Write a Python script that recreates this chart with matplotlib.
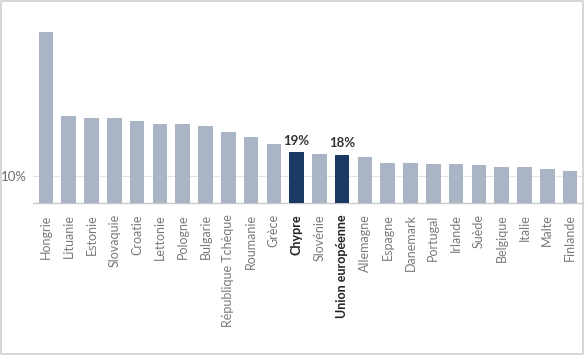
import matplotlib
matplotlib.use("Agg")
import matplotlib.pyplot as plt
from matplotlib.patches import Rectangle

countries = ["Hongrie", "Lituanie", "Estonie", "Slovaquie", "Croatie", "Lettonie",
             "Pologne", "Bulgarie", "République Tchèque", "Roumanie", "Grèce",
             "Chypre", "Slovénie", "Union européenne", "Allemagne", "Espagne",
             "Danemark", "Portugal", "Irlande", "Suède", "Belgique", "Italie",
             "Malte", "Finlande"]
values = [64, 32.6, 31.7, 31.7, 30.7, 29.7, 29.7, 28.7, 26.6, 24.7, 22.2,
          19, 18.5, 18, 17.2, 15.0, 15.0, 14.5, 14.5, 14.3, 13.4, 13.4, 12.9, 11.9]
highlight = ["Chypre", "Union européenne"]
value_labels = {"Chypre": "19%", "Union européenne": "18%"}
yticks = [10]
ytick_labels = ["10%"]

plt.rcParams['font.family'] = ['Lato', 'DejaVu Sans']

fig = plt.figure(figsize=(5.85, 3.55), dpi=100)
ax = fig.add_axes([0.056, 0.428, 0.941, 0.544])

light = "#A9B5C5"
dark = "#1B3A63"
x = list(range(len(countries)))
colors = [dark if c in highlight else light for c in countries]
ax.bar(x, values, width=0.64, color=colors, zorder=3)

for i, c in enumerate(countries):
    if c in value_labels:
        ax.annotate(value_labels[c], (i, values[i]), xytext=(0, 4),
                    textcoords="offset points", ha="center", va="bottom",
                    fontsize=9.5, fontweight="bold", color="#333333")

ax.set_xlim(-0.58, len(countries) - 0.42)
ax.set_ylim(0, 72.3)
ax.set_yticks(yticks)
ax.set_yticklabels(ytick_labels, fontsize=9.5, color="#6b6b6b")
ax.yaxis.grid(True, color="#E3E3E3", linewidth=0.8, zorder=0)
ax.set_xticks(x)
ax.set_xticklabels(countries, rotation=90, fontsize=9, color="#7a7a7a")
for lbl in ax.get_xticklabels():
    if lbl.get_text() in highlight:
        lbl.set_fontweight("bold")
        lbl.set_color("#222222")
ax.tick_params(axis="both", length=0)
ax.tick_params(axis="x", pad=8)
ax.tick_params(axis="y", pad=4)
for s in ["top", "right", "left"]:
    ax.spines[s].set_visible(False)
ax.spines["bottom"].set_color("#C8C8C8")
ax.spines["bottom"].set_linewidth(1.0)

fig.patches.append(Rectangle((0.002, 0.004), 0.994, 0.992, transform=fig.transFigure,
                             fill=False, edgecolor="#CFCFCF", linewidth=1.2))

fig.savefig("out.png", dpi=100)
